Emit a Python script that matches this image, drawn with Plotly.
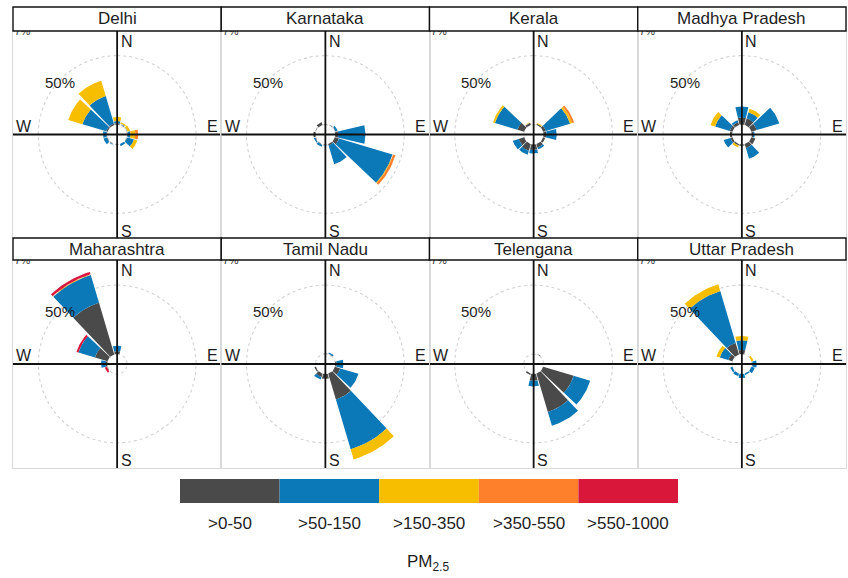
import numpy as np
import plotly.graph_objects as go

# ---------------------------------------------------------------- data
STATES = ["Delhi", "Karnataka", "Kerala", "Madhya Pradesh",
          "Maharashtra", "Tamil Nadu", "Telengana", "Uttar Pradesh"]
DIRECTIONS = [0, 30, 60, 90, 120, 150, 180, 210, 240, 270, 300, 330]
BANDS = [">0-50", ">50-150", ">150-350", ">350-550", ">550-1000"]
BAND_COLOURS = ["#4a4a4a", "#0b78b8", "#f7be00", "#ff802b", "#d8173a"]

# Frequency (%) by wind direction; one row per PM2.5 band (low -> high)
delhi = [
    [1.0, 0.5, 0.0, 0.5, 0.5, 0.0, 0.5, 0.5, 0.5, 0.5, 1.0, 1.0],
    [1.5, 0.5, 0.5, 2.0, 5.0, 1.5, 0.0, 0.5, 2.5, 2.5, 18.0, 20.8],
    [3.0, 1.0, 2.0, 3.5, 2.5, 0.0, 0.0, 0.0, 0.0, 0.0, 10.7, 11.6],
    [0.0, 0.0, 0.0, 2.0, 0.0, 0.0, 0.0, 0.0, 0.0, 0.0, 0.0, 0.0],
    [0.0, 0.0, 0.0, 0.0, 0.0, 0.0, 0.0, 0.0, 0.0, 0.0, 0.0, 0.0],
]
karnataka = [
    [0.5, 0.5, 0.5, 2.0, 3.0, 1.0, 0.5, 0.5, 0.5, 1.5, 0.5, 2.0],
    [0.0, 0.0, 1.5, 19.8, 40.5, 14.2, 0.5, 1.5, 1.0, 0.0, 0.0, 0.0],
    [0.0, 0.0, 0.0, 0.0, 0.5, 0.0, 0.0, 0.0, 0.0, 0.0, 0.0, 0.0],
    [0.0, 0.0, 0.0, 0.0, 1.7, 0.0, 0.0, 0.0, 0.0, 0.0, 0.0, 0.0],
    [0.0, 0.0, 0.0, 0.0, 0.0, 0.0, 0.0, 0.0, 0.0, 0.0, 0.0, 0.0],
]
kerala = [
    [0.0, 0.8, 2.0, 2.0, 1.5, 2.5, 4.0, 5.0, 4.0, 0.0, 5.0, 1.5],
    [0.0, 0.0, 18.3, 7.5, 0.0, 1.5, 2.5, 3.0, 4.5, 0.0, 17.0, 0.0],
    [0.0, 0.7, 1.5, 0.0, 0.0, 0.0, 0.0, 0.0, 0.0, 0.0, 1.5, 0.5],
    [0.0, 0.0, 1.5, 0.0, 0.0, 0.0, 0.0, 0.0, 0.0, 0.0, 0.0, 0.0],
    [0.0, 0.0, 0.0, 0.0, 0.0, 0.0, 0.0, 0.0, 0.0, 0.0, 0.0, 0.0],
]
madhya_pradesh = [
    [5.0, 5.0, 4.0, 1.0, 3.0, 3.0, 1.0, 1.0, 1.5, 1.5, 2.0, 2.0],
    [8.0, 4.5, 17.0, 1.0, 0.0, 8.0, 0.0, 0.0, 5.0, 0.0, 11.0, 1.5],
    [0.0, 2.8, 0.0, 0.0, 0.0, 0.0, 0.0, 1.5, 0.0, 0.0, 3.5, 0.0],
    [0.0, 0.0, 0.0, 0.0, 0.0, 0.0, 0.0, 0.0, 0.0, 0.0, 0.0, 0.0],
    [0.0, 0.0, 0.0, 0.0, 0.0, 0.0, 0.0, 0.0, 0.0, 0.0, 0.0, 0.0],
]
maharashtra = [
    [2.0, 0.0, 0.0, 0.0, 0.0, 0.0, 0.0, 0.0, 0.5, 1.0, 9.5, 39.0],
    [4.0, 0.0, 0.0, 0.0, 0.0, 0.0, 0.0, 0.0, 0.0, 3.4, 12.5, 21.0],
    [0.0, 0.0, 0.0, 0.0, 0.0, 0.0, 0.0, 0.0, 0.0, 0.0, 0.0, 0.3],
    [0.0, 0.0, 0.0, 0.0, 0.0, 0.0, 0.0, 0.0, 0.0, 0.0, 0.0, 0.3],
    [0.0, 0.0, 0.0, 0.0, 0.0, 0.0, 0.0, 0.0, 1.5, 0.0, 1.5, 1.8],
]
tamil_nadu = [
    [0.5, 0.5, 0.0, 1.0, 4.0, 19.6, 3.5, 2.5, 1.0, 0.0, 0.0, 0.0],
    [0.0, 1.0, 0.0, 4.8, 13.8, 37.7, 0.0, 2.0, 0.0, 0.0, 0.0, 0.0],
    [0.0, 0.0, 0.0, 0.0, 0.0, 7.6, 0.0, 0.0, 0.0, 0.0, 0.0, 0.0],
    [0.0, 0.0, 0.0, 0.0, 0.0, 0.0, 0.0, 0.0, 0.0, 0.0, 0.0, 0.0],
    [0.0, 0.0, 0.0, 0.0, 0.0, 0.0, 0.0, 0.0, 0.0, 0.0, 0.0, 0.0],
]
telengana = [
    [0.0, 0.5, 0.0, 0.0, 23.0, 29.0, 5.0, 1.0, 0.0, 0.0, 0.0, 0.0],
    [0.0, 0.0, 0.0, 0.0, 12.5, 10.5, 4.0, 0.0, 0.0, 0.0, 0.0, 0.0],
    [0.0, 0.0, 0.0, 0.0, 0.0, 0.0, 0.0, 0.0, 0.0, 0.0, 0.0, 0.0],
    [0.0, 0.0, 0.0, 0.0, 0.0, 0.0, 0.0, 0.0, 0.0, 0.0, 0.0, 0.0],
    [0.0, 0.0, 0.0, 0.0, 0.0, 0.0, 0.0, 0.0, 0.0, 0.0, 0.0, 0.0],
]
uttar_pradesh = [
    [3.0, 0.0, 0.0, 0.5, 0.0, 0.0, 0.0, 0.0, 0.0, 0.0, 3.0, 8.7],
    [7.0, 0.0, 0.0, 3.0, 2.5, 1.0, 3.0, 2.0, 1.5, 0.0, 6.5, 39.2],
    [3.0, 0.0, 1.5, 0.0, 0.0, 0.0, 0.0, 0.0, 0.0, 0.0, 2.5, 5.1],
    [0.0, 0.0, 0.0, 0.0, 0.0, 0.0, 0.0, 0.0, 0.0, 0.0, 0.0, 0.0],
    [0.0, 0.0, 0.0, 0.0, 0.0, 0.0, 0.0, 0.0, 0.0, 0.0, 0.0, 0.0],
]
ROSES = [delhi, karnataka, kerala, madhya_pradesh,
         maharashtra, tamil_nadu, telengana, uttar_pradesh]
CALM_TEXT = "7%"
GRID_PCT = 50

# ---------------------------------------------------------------- geometry
W, H = 848, 578
PX_PER_UNIT = 1.379          # pixels per 1 % on the radial scale
OFFSET = 7.25                # hollow centre, in % units
SECTOR = 30                  # width of a direction bin (degrees)
SEG = 0.9                    # fraction of the bin covered by a wedge
COL_EDGES = [13, 221.25, 429.5, 637.75, 846]
ROW_STRIPS = [(7, 31), (238, 260)]
ROW_PANELS = [(31, 238), (260, 468)]
FONT = "Liberation Sans, Arial, sans-serif"
INK = "#1e1e1e"


def wedge(theta, r0, r1):
    half = SECTOR * SEG / 2
    t = np.radians(np.linspace(theta - half, theta + half, 24))
    xs = np.concatenate([r1 * np.sin(t), r0 * np.sin(t[::-1])])
    ys = np.concatenate([r1 * np.cos(t), r0 * np.cos(t[::-1])])
    return list(xs) + [xs[0], None], list(ys) + [ys[0], None]


def circle(r):
    t = np.radians(np.linspace(0, 360, 181))
    return r * np.sin(t), r * np.cos(t)


fig = go.Figure()
layout_axes = {}
annotations = []
shapes = []

for i, (state, rose) in enumerate(zip(STATES, ROSES)):
    row, col = divmod(i, 4)
    n = "" if i == 0 else str(i + 1)
    xa, ya = "x" + n, "y" + n
    x0, x1 = COL_EDGES[col], COL_EDGES[col + 1]
    p0, p1 = ROW_PANELS[row]
    hx = (x1 - x0) / 2 / PX_PER_UNIT
    hy = (p1 - p0) / 2 / PX_PER_UNIT

    axis_style = dict(showticklabels=False, showgrid=False, zeroline=False,
                      showline=True, mirror=True, linecolor="#d9d9d9",
                      linewidth=1, ticks="", fixedrange=True)
    layout_axes["xaxis" + n] = dict(axis_style, domain=[x0 / W, x1 / W],
                                    range=[-hx, hx], anchor=ya)
    layout_axes["yaxis" + n] = dict(axis_style,
                                    domain=[1 - p1 / H, 1 - p0 / H],
                                    range=[-hy, hy], anchor=xa)

    # grid circles
    for r in (OFFSET, OFFSET + GRID_PCT):
        cx, cy = circle(r)
        fig.add_trace(go.Scatter(x=cx, y=cy, mode="lines", xaxis=xa, yaxis=ya,
                                 line=dict(color="#d2d2d2", width=1.1, dash="dot"),
                                 hoverinfo="skip"))

    # stacked wedges, one trace per PM2.5 band
    cum = np.zeros(len(DIRECTIONS))
    for b, (band, colour) in enumerate(zip(BANDS, BAND_COLOURS)):
        vals = np.array(rose[b], dtype=float)
        px, py = [], []
        for k, theta in enumerate(DIRECTIONS):
            if vals[k] > 0:
                wx, wy = wedge(theta, OFFSET + cum[k], OFFSET + cum[k] + vals[k])
                px += wx
                py += wy
        cum += vals
        if px:
            fig.add_trace(go.Scatter(x=px, y=py, mode="lines", fill="toself",
                                     fillcolor=colour, line=dict(width=0, color=colour),
                                     xaxis=xa, yaxis=ya, name=band, hoverinfo="skip"))

    # compass cross
    fig.add_trace(go.Scatter(x=[0, 0, None, -hx, hx], y=[-hy, hy, None, 0, 0],
                             mode="lines", xaxis=xa, yaxis=ya,
                             line=dict(color="#111111", width=1.8), hoverinfo="skip"))

    # calm label in the corner, partly hidden under the strip
    fig.add_trace(go.Scatter(x=[-hx + 1.0], y=[hy - 1.2], mode="text", text=[CALM_TEXT],
                             textposition="middle right", xaxis=xa, yaxis=ya,
                             textfont=dict(family=FONT, size=11, color="#333333"),
                             cliponaxis=True, hoverinfo="skip"))

    compass = [("N", 1.0, 67.8, "left", "middle"),
               ("S", 1.0, -70.0, "left", "middle"),
               ("W", -hx + 1.0, -1.8, "left", "bottom"),
               ("E", hx - 1.0, -1.8, "right", "bottom")]
    for txt, ax_, ay_, xan, yan in compass:
        annotations.append(dict(x=ax_, y=ay_, xref=xa, yref=ya, text=txt,
                                showarrow=False, xanchor=xan, yanchor=yan,
                                font=dict(family=FONT, size=16, color=INK)))
    annotations.append(dict(x=-41.5, y=38.0, xref=xa, yref=ya, text=f"{GRID_PCT}%",
                            showarrow=False, xanchor="center", yanchor="middle",
                            font=dict(family=FONT, size=15, color=INK)))

    # strip with state name
    s0, s1 = ROW_STRIPS[row]
    shapes.append(dict(type="rect", xref="paper", yref="paper",
                       x0=x0 / W, x1=x1 / W, y0=1 - s1 / H, y1=1 - s0 / H,
                       line=dict(color="#111111", width=1.4), fillcolor="white",
                       layer="above"))
    annotations.append(dict(x=(x0 + x1) / 2 / W, y=1 - (s0 + s1) / 2 / H,
                            xref="paper", yref="paper", text=state, showarrow=False,
                            xanchor="center", yanchor="middle",
                            font=dict(family=FONT, size=17, color=INK)))

# colour key
KEY_X0, KEY_X1, KEY_Y0, KEY_Y1 = 180, 678, 479, 503
step = (KEY_X1 - KEY_X0) / len(BANDS)
for b, (band, colour) in enumerate(zip(BANDS, BAND_COLOURS)):
    bx0 = KEY_X0 + b * step
    shapes.append(dict(type="rect", xref="paper", yref="paper",
                       x0=bx0 / W, x1=(bx0 + step) / W,
                       y0=1 - KEY_Y1 / H, y1=1 - KEY_Y0 / H,
                       line=dict(width=0), fillcolor=colour))
    annotations.append(dict(x=(bx0 + step / 2) / W, y=1 - 523 / H, xref="paper",
                            yref="paper", text=band, showarrow=False,
                            xanchor="center", yanchor="middle",
                            font=dict(family=FONT, size=17, color=INK)))
annotations.append(dict(x=428 / W, y=1 - 563 / H, xref="paper", yref="paper",
                        text="PM<sub>2.5</sub>", showarrow=False,
                        xanchor="center", yanchor="middle",
                        font=dict(family=FONT, size=17, color=INK)))

fig.update_layout(width=W, height=H, margin=dict(l=0, r=0, t=0, b=0),
                  paper_bgcolor="white", plot_bgcolor="white", showlegend=False,
                  annotations=annotations, shapes=shapes, **layout_axes)

fig.write_html("out.html")
